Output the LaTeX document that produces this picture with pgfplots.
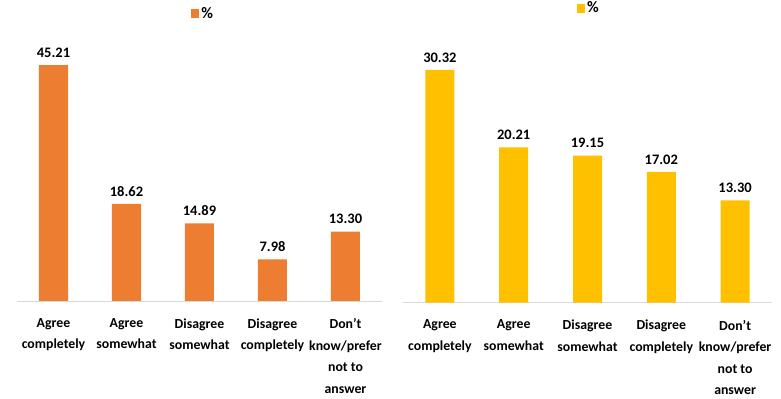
\documentclass[border=0pt]{standalone}
\usepackage{fontspec}
\setmainfont{Carlito}
\usepackage{pgfplots}
\pgfplotsset{compat=1.18}
\definecolor{corange}{HTML}{ED7D31}
\definecolor{cyellow}{HTML}{FFC000}
\definecolor{axgray}{HTML}{D9D9D9}
\pgfplotsset{
  mybars/.style={
    scale only axis,
    anchor=south west,
    xmin=-0.5, xmax=4.5, ymin=0,
    axis x line*=bottom,
    axis y line=none,
    x axis line style={axgray, line width=0.8bp, -},
    xtick={0,1,2,3,4},
    major tick length=0pt,
    ytick=\empty,
    xticklabel style={align=center, font=\fontsize{13.8bp}{21.5bp}\selectfont\bfseries, yshift=-14bp, anchor=north},
    ybar, bar width=29bp,
    /pgf/number format/assume math mode=true,
    nodes near coords={\pgfmathprintnumber[fixed,fixed zerofill,precision=2]{\pgfplotspointmeta}},
    nodes near coords style={font=\fontsize{14.5bp}{16bp}\selectfont\bfseries, yshift=4bp, black},
    legend style={draw=none, fill=none, anchor=center, inner sep=0pt},
    legend image code/.code={\fill[##1] (0bp,-4.5bp) rectangle (8bp,4.5bp);},
  }
}
\newcommand{\legtxt}{\fontsize{16bp}{18bp}\selectfont\bfseries\%}
\begin{document}
\begin{tikzpicture}
\path[use as bounding box] (0,0) rectangle (781bp,399bp);
\begin{axis}[mybars,
  at={(17bp,98bp)}, width=365bp, height=261bp, ymax=50,
  xticklabels={{Agree\\completely},{Agree\\somewhat},{Disagree\\somewhat},{Disagree\\completely},{Don't\\know/prefer\\not to\\answer}},
  legend style={at={(0.51,1.10)}},
]
\addplot[fill=corange, draw=none] coordinates {(0,45.21) (1,18.62) (2,14.89) (3,7.98) (4,13.30)};
\addlegendentry{\legtxt}
\end{axis}
\begin{axis}[mybars,
  at={(403bp,96.5bp)}, width=369bp, height=260.8bp, ymax=34,
  xticklabels={{Agree\\completely},{Agree\\somewhat},{Disagree\\somewhat},{Disagree\\completely},{Don’t\\know/prefer\\not to\\answer}},
  legend style={at={(0.504,1.129)}},
]
\addplot[fill=cyellow, draw=none] coordinates {(0,30.32) (1,20.21) (2,19.15) (3,17.02) (4,13.30)};
\addlegendentry{\legtxt}
\end{axis}
\end{tikzpicture}
\end{document}
